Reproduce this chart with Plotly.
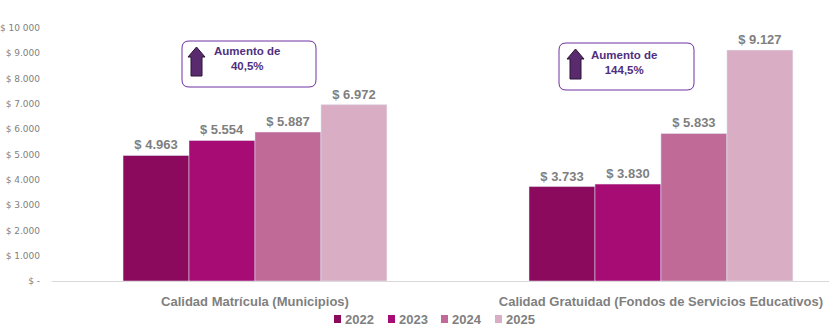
import plotly.graph_objects as go

# ---- data ----
categories = ["Calidad Matrícula (Municipios)",
              "Calidad Gratuidad (Fondos de Servicios Educativos)"]
years = ["2022", "2023", "2024", "2025"]
values_2022 = [4963, 3733]
values_2023 = [5554, 3830]
values_2024 = [5887, 5833]
values_2025 = [6972, 9127]
tick_values = [0, 1000, 2000, 3000, 4000, 5000, 6000, 7000, 8000, 9000, 10000]
tick_labels = ["$ -", "$ 1.000", "$ 2.000", "$ 3.000", "$ 4.000", "$ 5.000",
               "$ 6.000", "$ 7.000", "$ 8.000", "$ 9.000", "$ 10 000"]

series = [values_2022, values_2023, values_2024, values_2025]
colors = ["#8C0A5D", "#A60C74", "#C06A98", "#D9ADC3"]

W, H = 829, 329
L, R, T, B = 52, 0, 28, 48
PW, PH = W - L - R, H - T - B

GRAY = "#7F7F7F"
PURPLE = "#7030A0"
TXT = "#4F2F7F"
FONT = "Liberation Sans"

fig = go.Figure()
for name, vals, col in zip(years, series, colors):
    fig.add_trace(go.Bar(
        name=name, x=categories, y=vals, marker_color=col,
        texttemplate="<b>$ %{y:,}</b>", textposition="outside",
        textfont=dict(family=FONT, size=13, color=GRAY),
        cliponaxis=False, showlegend=False,
    ))


def px(x):
    return (x - L) / PW


def py(y):
    return (T + PH - y) / PH


def rounded_box(x0, y0, x1, y1, r):
    rx, ry = r / PW, r / PH
    a, b, c, d = px(x0), py(y0), px(x1), py(y1)
    return (f"M {a+rx},{b} L {c-rx},{b} Q {c},{b} {c},{b-ry} "
            f"L {c},{d+ry} Q {c},{d} {c-rx},{d} L {a+rx},{d} "
            f"Q {a},{d} {a},{d+ry} L {a},{b-ry} Q {a},{b} {a+rx},{b} Z")


def up_arrow(cx, top, bottom, head_w=17, shaft_w=11, head_h=10):
    pts = [(cx, top), (cx + head_w / 2, top + head_h), (cx + shaft_w / 2, top + head_h),
           (cx + shaft_w / 2, bottom), (cx - shaft_w / 2, bottom),
           (cx - shaft_w / 2, top + head_h), (cx - head_w / 2, top + head_h)]
    return "M " + " L ".join(f"{px(x)},{py(y)}" for x, y in pts) + " Z"


def pct_text(first, last):
    pct = (last / first - 1) * 100
    return f"{pct:.1f}%".replace(".", ",")


# growth call-out boxes (2022 -> 2025)
boxes = [
    dict(box=(182, 41, 316, 87), arrow=(196.5, 47, 76), text=(247, 59)),
    dict(box=(559, 43, 694, 90), arrow=(575.5, 49, 79), text=(624, 62)),
]
for i, bx in enumerate(boxes):
    fig.add_shape(type="path", xref="paper", yref="paper",
                  path=rounded_box(*bx["box"], 7),
                  line=dict(color=PURPLE, width=1), fillcolor="rgba(0,0,0,0)")
    fig.add_shape(type="path", xref="paper", yref="paper",
                  path=up_arrow(*bx["arrow"]),
                  line=dict(color="#2B1433", width=1), fillcolor="#5A2A6E")
    fig.add_annotation(xref="paper", yref="paper",
                       x=px(bx["text"][0]), y=py(bx["text"][1]),
                       xanchor="center", yanchor="middle",
                       text="<b>Aumento de<br>" + pct_text(values_2022[i], values_2025[i]) + "</b>",
                       showarrow=False, align="center",
                       font=dict(family=FONT, size=11.5, color=TXT))

# legend row: small square + year label
leg_x = [334, 388, 441, 495]
leg_y = 319
for x0, yr, col in zip(leg_x, years, colors):
    fig.add_shape(type="rect", xref="paper", yref="paper",
                  x0=px(x0), x1=px(x0 + 7), y0=py(leg_y - 4), y1=py(leg_y + 4),
                  line=dict(width=0), fillcolor=col)
    fig.add_annotation(xref="paper", yref="paper", x=px(x0 + 9), y=py(leg_y),
                       xanchor="left", yanchor="middle", showarrow=False,
                       text="<b>" + yr + "</b>",
                       font=dict(family=FONT, size=13, color=GRAY))

fig.update_layout(
    width=W, height=H,
    margin=dict(l=L, r=R, t=T, b=B),
    paper_bgcolor="white", plot_bgcolor="white",
    separators=",.",
    barmode="group", bargap=0.35, bargroupgap=0,
    font=dict(family=FONT, color=GRAY),
    showlegend=False,
    xaxis=dict(type="category", range=[-0.5, 1.414], showline=True,
               linecolor="#D9D9D9", linewidth=1, ticks="", showgrid=False,
               tickvals=categories, ticktext=["<b>" + c + "</b>" for c in categories],
               tickfont=dict(family=FONT, size=13, color=GRAY),
               ticklabelstandoff=8, automargin=False),
    yaxis=dict(range=[0, 10000], tickvals=tick_values, ticktext=tick_labels,
               showgrid=False, zeroline=False, showline=False, ticks="",
               tickfont=dict(family="DejaVu Sans", size=9, color=GRAY),
               ticklabelstandoff=11, automargin=False),
)

fig.write_html("out.html")
